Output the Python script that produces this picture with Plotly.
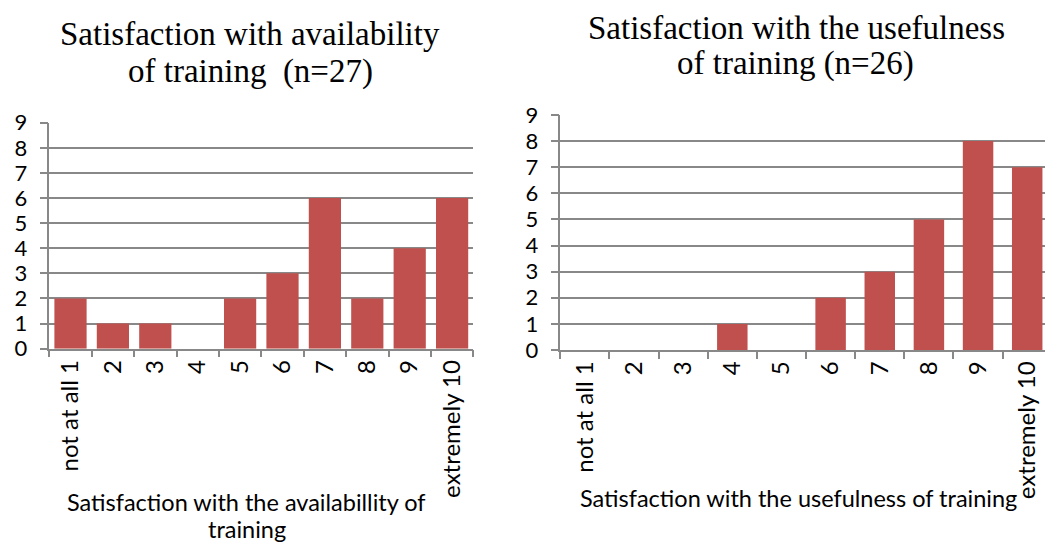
import plotly.graph_objects as go

# Rating scale shared by both questions
categories = ["not at all 1", "2", "3", "4", "5", "6", "7", "8", "9", "extremely 10"]

# Response counts per rating
availability_counts = [2, 1, 1, 0, 2, 3, 6, 2, 4, 6]
usefulness_counts = [0, 0, 0, 1, 0, 2, 3, 5, 8, 7]

y_ticks = list(range(0, 10))

BAR = "#C0504D"
GRID = "#888888"
SANS = "Lato, 'Open Sans', sans-serif"
SERIF = "'Liberation Serif', 'DejaVu Serif', serif"

W, H = 1045, 545

fig = go.Figure()
fig.add_trace(go.Bar(x=categories, y=availability_counts, width=0.76,
                     marker=dict(color=BAR, line=dict(width=0)),
                     xaxis="x", yaxis="y", showlegend=False))
fig.add_trace(go.Bar(x=categories, y=usefulness_counts, width=0.62,
                     marker=dict(color=BAR, line=dict(width=0)),
                     xaxis="x2", yaxis="y2", showlegend=False))


def xaxis_style(domain, rng, anchor):
    return dict(domain=domain, range=rng, anchor=anchor, type="category",
                showgrid=False, zeroline=False, showline=True,
                linecolor=GRID, linewidth=1.5,
                ticks="outside", tickson="boundaries", ticklen=7,
                tickcolor=GRID, tickwidth=1.5, tickangle=-90,
                tickfont=dict(family=SANS, size=24, color="#000000"),
                automargin=False, fixedrange=True)


def yaxis_style(domain, anchor):
    return dict(domain=domain, range=[0, 9], anchor=anchor,
                tickvals=y_ticks, showgrid=True, gridcolor=GRID, gridwidth=1.5,
                zeroline=False, showline=True, linecolor=GRID, linewidth=1.5,
                ticks="outside", ticklen=8, tickcolor=GRID, tickwidth=1.5,
                ticklabelstandoff=8,
                tickfont=dict(family=SANS, size=22, color="#000000"),
                automargin=False, fixedrange=True)


fig.update_layout(
    width=W, height=H,
    margin=dict(l=0, r=0, t=0, b=0),
    paper_bgcolor="white", plot_bgcolor="white",
    xaxis=xaxis_style([49.3 / W, 473.3 / W], [-0.5, 9.5], "y"),
    yaxis=yaxis_style([196.3 / H, 422.3 / H], "x"),
    xaxis2=xaxis_style([560.3 / W, 1.0], [-0.5, 9.362], "y2"),
    yaxis2=yaxis_style([195.0 / H, 430.0 / H], "x2"),
)


def note(text, x, y, size, family):
    fig.add_annotation(text=text, x=x / W, y=1 - y / H, xref="paper", yref="paper",
                       xanchor="center", yanchor="middle", showarrow=False,
                       font=dict(family=family, size=size, color="#000000"))


# Chart titles
note("Satisfaction with availability", 250, 34, 33, SERIF)
note("of training \u00a0(n=27)", 250, 71, 33, SERIF)
note("Satisfaction with the usefulness", 796, 28, 33, SERIF)
note("of training (n=26)", 795, 63, 33, SERIF)

# Axis titles
note("Satisfaction with the availabillity of", 246, 502, 23.5, SANS)
note("training", 247, 529, 23.5, SANS)
note("Satisfaction with the usefulness of training", 798, 498, 23.5, SANS)

fig.write_html("out.html")
